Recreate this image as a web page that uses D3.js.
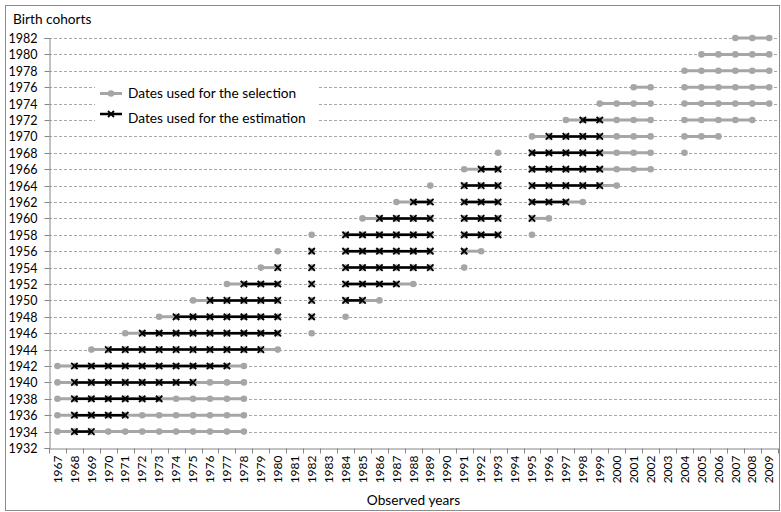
<!DOCTYPE html>
<html><head><meta charset="utf-8">
<script src="https://cdn.jsdelivr.net/npm/d3@7"></script>
<style>
body{margin:0;background:#fff;}
svg text{font-family:Lato,"Liberation Sans",sans-serif;fill:#000;}
</style></head>
<body><svg id="c" width="781" height="512"></svg>
<script>
// ---- data ----
const years = d3.range(1967, 2010);           // observed years (categories)
const yTicks = d3.range(1932, 1983, 2);       // birth cohort tick labels
const cohorts = [1934,1936,1938,1940,1942,1944,1946,1948,1950,1952,1954,1956,1958,1960,1962,1964,1966,1968,1970,1972,1974,1976,1978,1980,1982];
// dates used for the selection (year ranges, inclusive)
const selection = [
  [[1967,1978]],
  [[1967,1978]],
  [[1967,1978]],
  [[1967,1978]],
  [[1967,1978]],
  [[1969,1980]],
  [[1971,1980],[1982,1982]],
  [[1973,1980],[1982,1982],[1984,1984]],
  [[1975,1980],[1982,1982],[1984,1986]],
  [[1977,1980],[1982,1982],[1984,1988]],
  [[1979,1980],[1982,1982],[1984,1989],[1991,1991]],
  [[1980,1980],[1982,1982],[1984,1989],[1991,1992]],
  [[1982,1982],[1984,1989],[1991,1993],[1995,1995]],
  [[1985,1989],[1991,1993],[1995,1996]],
  [[1987,1989],[1991,1993],[1995,1998]],
  [[1989,1989],[1991,1993],[1995,2000]],
  [[1991,1993],[1995,2002]],
  [[1993,1993],[1995,2002],[2004,2004]],
  [[1995,2002],[2004,2006]],
  [[1997,2002],[2004,2008]],
  [[1999,2002],[2004,2009]],
  [[2001,2002],[2004,2009]],
  [[2004,2009]],
  [[2005,2009]],
  [[2007,2009]]
];
// dates used for the estimation (year ranges, inclusive)
const estimation = [
  [[1968,1969]],
  [[1968,1971]],
  [[1968,1973]],
  [[1968,1975]],
  [[1968,1977]],
  [[1970,1979]],
  [[1972,1980]],
  [[1974,1980],[1982,1982]],
  [[1976,1980],[1982,1982],[1984,1985]],
  [[1978,1980],[1982,1982],[1984,1987]],
  [[1980,1980],[1982,1982],[1984,1989]],
  [[1982,1982],[1984,1989],[1991,1991]],
  [[1984,1989],[1991,1993]],
  [[1986,1989],[1991,1993],[1995,1995]],
  [[1988,1989],[1991,1993],[1995,1997]],
  [[1991,1993],[1995,1999]],
  [[1992,1993],[1995,1999]],
  [[1995,1999]],
  [[1996,1999]],
  [[1998,1999]],
  [],[],[],[],[]
];
const legendLabels = ["Dates used for the selection","Dates used for the estimation"];

// ---- drawing ----
const svg = d3.select("#c");
const L = 49, R = 777.7, T = 38, B = 448;
const x = d3.scaleBand().domain(years).range([L, R]).padding(0);
const y = d3.scaleLinear().domain([1932, 1982]).range([B, T]);
const GREY = "#a6a6a6";

svg.append("rect").attr("x",5.5).attr("y",5.5).attr("width",774).attr("height",505)
  .attr("fill","#fff").attr("stroke","#8c8c8c");

// gridlines
svg.append("g").selectAll("line").data(yTicks.filter(t => t > 1932)).join("line")
  .attr("x1", L).attr("x2", R).attr("y1", d => Math.round(y(d))+0.5).attr("y2", d => Math.round(y(d))+0.5)
  .attr("stroke", "#a6a6a6").attr("stroke-dasharray", "3,2").attr("stroke-width", 1);

// y axis
const yAxis = d3.axisLeft(y).tickValues(yTicks).tickFormat(d3.format("d")).tickSize(5).tickPadding(6);
const gy = svg.append("g").attr("transform", `translate(${L+0.5},0)`).call(yAxis);
gy.selectAll("text").style("font-size","12.5px").attr("x",-12).attr("text-anchor","end");
gy.select(".domain").attr("stroke","#868686");
gy.selectAll(".tick line").attr("stroke","#868686");
gy.selectAll(".tick").attr("transform", d => `translate(0,${Math.round(y(d))+0.5})`);

// x axis
const xAxis = d3.axisBottom(x).tickSize(0).tickPadding(6);
const gx = svg.append("g").attr("transform", `translate(0,${B+0.5})`).call(xAxis);
gx.select(".domain").attr("stroke","#868686");
gx.selectAll("text").style("font-size","12px")
  .attr("transform","rotate(-90)").attr("x",-7).attr("y",0).attr("dy","0.35em").attr("text-anchor","end");
gx.selectAll(".bt").data(years.concat([2010])).join("line").attr("class","bt")
  .attr("x1", d => Math.round(d === 2010 ? R : x(d))+0.5).attr("x2", d => Math.round(d === 2010 ? R : x(d))+0.5)
  .attr("y1", 0).attr("y2", 5).attr("stroke","#868686");

const expand = rs => rs.flatMap(([a,b]) => d3.range(a, b+1));
const cx = yr => x(yr) + x.bandwidth()/2;

// builds segments of consecutive years
function segs(list){
  const out = []; let cur = [];
  list.forEach((yr,i) => {
    if (i > 0 && yr !== list[i-1] + 1) { out.push(cur); cur = []; }
    cur.push(yr);
  });
  if (cur.length) out.push(cur);
  return out;
}
const line = d3.line();
const gData = svg.append("g");

cohorts.forEach((c, i) => {
  const yy = y(c);
  const sel = expand(selection[i]);
  segs(sel).forEach(s => {
    if (s.length > 1) gData.append("path").attr("d", line(s.map(v => [cx(v), yy])))
      .attr("fill","none").attr("stroke",GREY).attr("stroke-width",3);
  });
  gData.selectAll(null).data(sel).join("circle")
    .attr("cx", d => cx(d)).attr("cy", yy).attr("r", 3.3).attr("fill", GREY);
});
cohorts.forEach((c, i) => {
  const yy = y(c);
  const est = expand(estimation[i]);
  segs(est).forEach(s => {
    if (s.length > 1) gData.append("path").attr("d", line(s.map(v => [cx(v), yy])))
      .attr("fill","none").attr("stroke","#000").attr("stroke-width",2.5);
  });
  est.forEach(v => {
    const px = cx(v), k = 3.2;
    gData.append("path").attr("d", `M${px-k},${yy-k}L${px+k},${yy+k}M${px-k},${yy+k}L${px+k},${yy-k}`)
      .attr("stroke","#000").attr("stroke-width",1.8);
  });
});

// legend
const lg = svg.append("g");
lg.append("rect").attr("x",95).attr("y",80).attr("width",222).attr("height",46).attr("fill","#fff");
const ly = [93.5, 118];
lg.append("line").attr("x1",100).attr("x2",122).attr("y1",ly[0]).attr("y2",ly[0]).attr("stroke",GREY).attr("stroke-width",3);
lg.append("circle").attr("cx",111).attr("cy",ly[0]).attr("r",3.3).attr("fill",GREY);
lg.append("line").attr("x1",100).attr("x2",122).attr("y1",114).attr("y2",114).attr("stroke","#000").attr("stroke-width",2.5);
lg.append("path").attr("d",`M108,111L114,117M108,117L114,111`).attr("stroke","#000").attr("stroke-width",1.8);
lg.selectAll("text").data(legendLabels).join("text")
  .attr("x",128).attr("y",(d,i) => ly[i]).attr("dy","0.35em").style("font-size","13.7px").text(d => d);

// titles
svg.append("text").attr("x",13).attr("y",24).style("font-size","13.7px").text("Birth cohorts");
svg.append("text").attr("x",413.5).attr("y",505).attr("text-anchor","middle").style("font-size","13.7px").text("Observed years");
</script></body></html>
